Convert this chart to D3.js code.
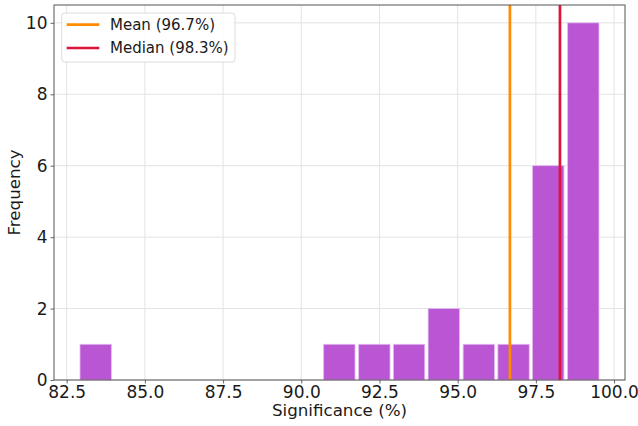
<!DOCTYPE html>
<html>
<head>
<meta charset="utf-8">
<script src="https://cdn.jsdelivr.net/npm/d3@7"></script>
<style>
  html, body { margin: 0; padding: 0; background: #fff; }
  svg { display: block; }
  text { font-family: "DejaVu Sans", sans-serif; fill: #1a1a1a; }
</style>
</head>
<body>
<svg id="chart" width="638" height="426"></svg>
<script>
// ---- data ----
const binStarts = [82.87, 83.98, 85.10, 86.21, 87.32, 88.44, 89.55, 90.66, 91.78, 92.89, 94.00, 95.12, 96.23, 97.34, 98.46];
const binWidth = 1.113;
const counts = [1, 0, 0, 0, 0, 0, 0, 1, 1, 1, 2, 1, 1, 6, 10];
const meanValue = 96.67;
const medianValue = 98.27;
const xTicks = [82.5, 85.0, 87.5, 90.0, 92.5, 95.0, 97.5, 100.0];
const yTicks = [0, 2, 4, 6, 8, 10];
const legendLabels = ["Mean (96.7%)", "Median (98.3%)"];

// ---- layout ----
const svg = d3.select("#chart");
const W = 638, H = 426;
const m = { left: 54, right: W - 625, top: 5, bottom: H - 380 };

const x = d3.scaleLinear().domain([82.094, 100.35]).range([m.left, W - m.right]);
const y = d3.scaleLinear().domain([0, 10.5]).range([H - m.bottom, m.top]);

// grid
const g = svg.append("g");
g.selectAll(".gx").data(xTicks).enter().append("line")
  .attr("x1", d => x(d)).attr("x2", d => x(d))
  .attr("y1", y(0)).attr("y2", m.top)
  .attr("stroke", "#e3e3e3").attr("stroke-width", 1);
g.selectAll(".gy").data(yTicks).enter().append("line")
  .attr("x1", m.left).attr("x2", W - m.right)
  .attr("y1", d => y(d)).attr("y2", d => y(d))
  .attr("stroke", "#e3e3e3").attr("stroke-width", 1);

// bars
const rwidth = 0.9;
svg.append("g").selectAll("rect")
  .data(counts.map((c, i) => ({ c, s: binStarts[i] })).filter(d => d.c > 0))
  .enter().append("rect")
  .attr("x", d => x(d.s + binWidth * (1 - rwidth) / 2))
  .attr("width", d => x(d.s + binWidth * (1 + rwidth) / 2) - x(d.s + binWidth * (1 - rwidth) / 2))
  .attr("y", d => y(d.c))
  .attr("height", d => y(0) - y(d.c))
  .attr("fill", "#BA55D3")
  .attr("stroke", "#e3b8ef")
  .attr("stroke-width", 0.8);

// vertical lines
svg.append("line")
  .attr("x1", x(meanValue)).attr("x2", x(meanValue))
  .attr("y1", m.top).attr("y2", y(0))
  .attr("stroke", "#FF8C00").attr("stroke-width", 2.7);
svg.append("line")
  .attr("x1", x(medianValue)).attr("x2", x(medianValue))
  .attr("y1", m.top).attr("y2", y(0))
  .attr("stroke", "#DC143C").attr("stroke-width", 2.7);

// axes
const xAxis = d3.axisBottom(x).tickValues(xTicks).tickFormat(d3.format(".1f")).tickSizeOuter(0).tickSize(3.5).tickPadding(2);
const yAxis = d3.axisLeft(y).tickValues(yTicks).tickFormat(d3.format("d")).tickSizeOuter(0).tickSize(3.5).tickPadding(3);

const xa = svg.append("g").attr("transform", `translate(0,${y(0)})`).call(xAxis);
const ya = svg.append("g").attr("transform", `translate(${m.left},0)`).call(yAxis);
[xa, ya].forEach(a => {
  a.attr("font-size", null).attr("font-family", null);
  a.select(".domain").remove();
  a.selectAll(".tick line").attr("stroke", "#555").attr("stroke-width", 0.9);
  a.selectAll(".tick text").style("font-size", "17px").attr("fill", "#1a1a1a");
});

// spines
svg.append("rect")
  .attr("x", m.left).attr("y", m.top)
  .attr("width", W - m.right - m.left).attr("height", y(0) - m.top)
  .attr("fill", "none").attr("stroke", "#555").attr("stroke-width", 1);

// axis labels
svg.append("text")
  .attr("x", (m.left + W - m.right) / 2).attr("y", 416)
  .attr("text-anchor", "middle").style("font-size", "16.7px")
  .text("Significance (%)");
svg.append("text")
  .attr("transform", `translate(20,${(m.top + y(0)) / 2}) rotate(-90)`)
  .attr("text-anchor", "middle").style("font-size", "16.7px")
  .text("Frequency");

// legend
const lg = svg.append("g");
lg.append("rect")
  .attr("x", 61.7).attr("y", 13).attr("width", 173.3).attr("height", 49)
  .attr("rx", 3).attr("fill", "#fff").attr("fill-opacity", 0.85)
  .attr("stroke", "#dcdcdc").attr("stroke-width", 1);
const legColors = ["#FF8C00", "#DC143C"];
legendLabels.forEach((lab, i) => {
  const ly = 24.7 + i * 23.3;
  lg.append("line").attr("x1", 66.7).attr("x2", 99.3).attr("y1", ly).attr("y2", ly)
    .attr("stroke", legColors[i]).attr("stroke-width", 2.7);
  lg.append("text").attr("x", 110).attr("y", ly).attr("dy", "0.36em")
    .style("font-size", "15px").text(lab);
});
</script>
</body>
</html>
